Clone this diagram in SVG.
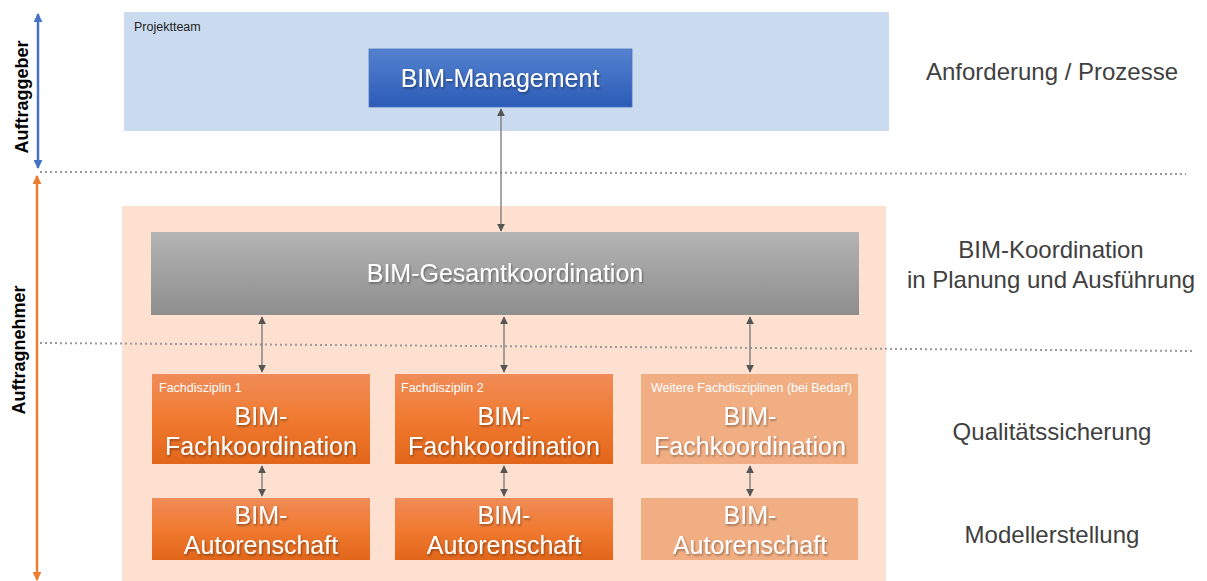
<svg xmlns="http://www.w3.org/2000/svg" width="1207" height="581" viewBox="0 0 1207 581">
<defs>
<linearGradient id="gBlue" x1="0" y1="0" x2="0" y2="1"><stop offset="0" stop-color="#5482cf"/><stop offset="1" stop-color="#2c5bb7"/></linearGradient>
<linearGradient id="gGray" x1="0" y1="0" x2="0" y2="1"><stop offset="0" stop-color="#b4b4b4"/><stop offset="1" stop-color="#8e8e8e"/></linearGradient>
<linearGradient id="gOr" x1="0" y1="0" x2="0" y2="1"><stop offset="0" stop-color="#f08c58"/><stop offset="0.5" stop-color="#f07a30"/><stop offset="1" stop-color="#e2661a"/></linearGradient>
<filter id="ts" x="-10%" y="-20%" width="120%" height="150%"><feDropShadow dx="1" dy="1.5" stdDeviation="1" flood-color="#000" flood-opacity="0.4"/></filter>
<marker id="ah" viewBox="0 0 10 10" refX="9" refY="5" markerWidth="8" markerHeight="8" markerUnits="userSpaceOnUse" orient="auto-start-reverse"><path d="M0,0 L10,5 L0,10 z" fill="#555"/></marker>
<marker id="ahB" viewBox="0 0 10 10" refX="9" refY="5" markerWidth="9" markerHeight="9" markerUnits="userSpaceOnUse" orient="auto-start-reverse"><path d="M0,0 L10,5 L0,10 z" fill="#4472c4"/></marker>
<marker id="ahO" viewBox="0 0 10 10" refX="9" refY="5" markerWidth="9" markerHeight="9" markerUnits="userSpaceOnUse" orient="auto-start-reverse"><path d="M0,0 L10,5 L0,10 z" fill="#ed7d31"/></marker>
</defs>
<style>
text{font-family:"Liberation Sans",Arial,sans-serif}
.w{fill:#fff;font-size:25px;text-anchor:middle;filter:url(#ts)}
.sm{fill:#fff;font-size:12.5px}
.side{fill:#404040;font-size:24px;text-anchor:middle}
.lab{fill:#000;font-size:18px;font-weight:bold;text-anchor:middle}
.con{stroke:#777;stroke-width:1.3;fill:none;marker-start:url(#ah);marker-end:url(#ah)}
.dot{stroke:#999;stroke-width:2;stroke-dasharray:2 3;fill:none}
</style>
<rect width="1207" height="581" fill="#fff"/>

<g id="lanes">
<rect x="124" y="12" width="765" height="119" fill="#cbdbef"/>
<text x="134" y="31" font-size="12.5" fill="#222">Projektteam</text>
<rect x="122" y="206" width="764" height="375" fill="#fde0cf"/>
<line class="dot" x1="40" y1="172" x2="1186" y2="174"/>
<line class="dot" x1="40" y1="343" x2="1195" y2="351"/>
</g>

<g id="axis">
<line x1="38" y1="14" x2="38" y2="168" stroke="#4472c4" stroke-width="2.5" marker-start="url(#ahB)" marker-end="url(#ahB)"/>
<line x1="37" y1="176" x2="37" y2="580" stroke="#ed7d31" stroke-width="2.5" marker-start="url(#ahO)" marker-end="url(#ahO)"/>
<text class="lab" transform="translate(28,97) rotate(-90)">Auftraggeber</text>
<text class="lab" transform="translate(25,350) rotate(-90)">Auftragnehmer</text>
</g>

<g id="connectors">
<line class="con" x1="501" y1="109" x2="501" y2="231"/>
<line class="con" x1="262" y1="317" x2="262" y2="372"/>
<line class="con" x1="504" y1="317" x2="504" y2="372"/>
<line class="con" x1="750" y1="317" x2="750" y2="372"/>
<line class="con" x1="262" y1="466" x2="262" y2="496"/>
<line class="con" x1="504" y1="466" x2="504" y2="496"/>
<line class="con" x1="750" y1="466" x2="750" y2="496"/>
</g>

<g id="bim-management">
<rect x="369" y="49" width="263" height="58" fill="url(#gBlue)" stroke="#4a73c0" stroke-width="0.8"/>
<text class="w" x="500" y="87">BIM-Management</text>
</g>

<g id="bim-gesamtkoordination">
<rect x="151" y="232" width="708" height="83" fill="url(#gGray)"/>
<text class="w" x="505" y="282">BIM-Gesamtkoordination</text>
</g>

<g id="fach1">
<rect x="152" y="374" width="218" height="90" fill="url(#gOr)"/>
<text class="sm" x="159" y="392">Fachdisziplin 1</text>
<text class="w" x="261" y="425">BIM-</text>
<text class="w" x="261" y="455">Fachkoordination</text>
</g>
<g id="fach2">
<rect x="395" y="374" width="218" height="90" fill="url(#gOr)"/>
<text class="sm" x="401" y="392">Fachdisziplin 2</text>
<text class="w" x="504" y="425">BIM-</text>
<text class="w" x="504" y="455">Fachkoordination</text>
</g>
<g id="fach3">
<rect x="641" y="374" width="217" height="90" fill="#f2ae83"/>
<text class="sm" x="651" y="392">Weitere Fachdisziplinen (bei Bedarf)</text>
<text class="w" x="750" y="425">BIM-</text>
<text class="w" x="750" y="455">Fachkoordination</text>
</g>

<g id="autor1">
<rect x="152" y="498" width="218" height="62" fill="url(#gOr)"/>
<text class="w" x="261" y="524">BIM-</text>
<text class="w" x="261" y="554">Autorenschaft</text>
</g>
<g id="autor2">
<rect x="395" y="498" width="218" height="62" fill="url(#gOr)"/>
<text class="w" x="504" y="524">BIM-</text>
<text class="w" x="504" y="554">Autorenschaft</text>
</g>
<g id="autor3">
<rect x="641" y="498" width="217" height="62" fill="#f2ae83"/>
<text class="w" x="750" y="524">BIM-</text>
<text class="w" x="750" y="554">Autorenschaft</text>
</g>

<g id="side-labels">
<text class="side" x="1052" y="80">Anforderung / Prozesse</text>
<text class="side" x="1051" y="258">BIM-Koordination</text>
<text class="side" x="1051" y="288">in Planung und Ausführung</text>
<text class="side" x="1052" y="440">Qualitätssicherung</text>
<text class="side" x="1052" y="543">Modellerstellung</text>
</g>
</svg>
